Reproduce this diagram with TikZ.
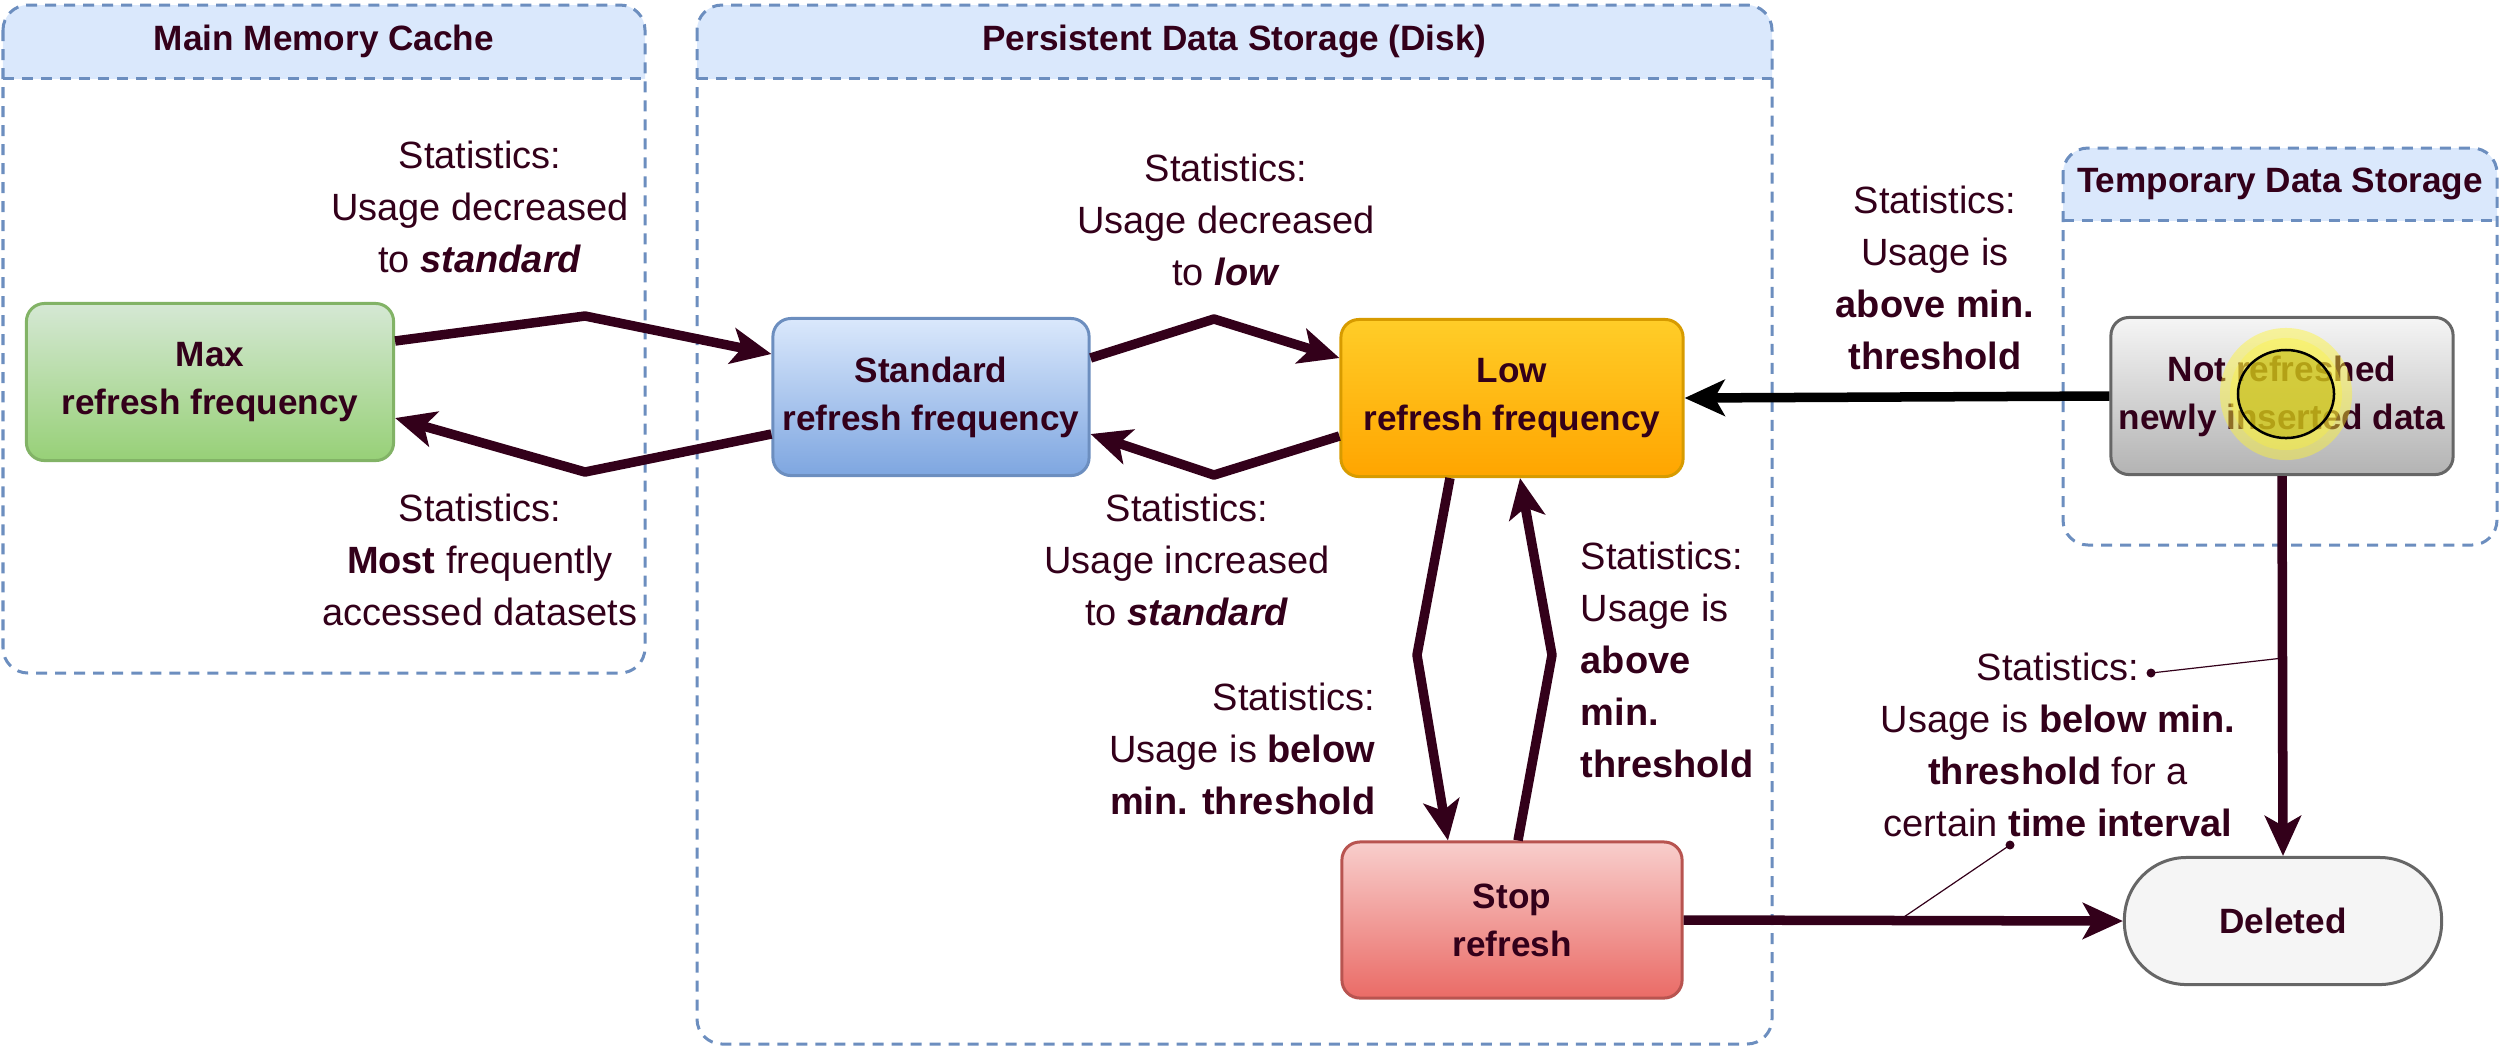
\documentclass[tikz,border=0pt]{standalone}
\usepackage{fontspec}
\setmainfont{Liberation Sans}
\usetikzlibrary{arrows.meta}
\definecolor{ink}{HTML}{33001A}
\definecolor{laneline}{HTML}{6C8EBF}
\definecolor{lanefill}{HTML}{DAE8FC}
\definecolor{greentop}{HTML}{D5E8D4}
\definecolor{greenbot}{HTML}{97D077}
\definecolor{greenline}{HTML}{82B366}
\definecolor{bluetop}{HTML}{DAE8FC}
\definecolor{bluebot}{HTML}{7EA6E0}
\definecolor{orangetop}{HTML}{FFCD28}
\definecolor{orangebot}{HTML}{FFA500}
\definecolor{orangeline}{HTML}{D79B00}
\definecolor{greytop}{HTML}{F5F5F5}
\definecolor{greybot}{HTML}{B3B3B3}
\definecolor{greyline}{HTML}{666666}
\definecolor{redtop}{HTML}{F8CECC}
\definecolor{redbot}{HTML}{EA6B66}
\definecolor{redline}{HTML}{B85450}

\begin{document}
\begin{tikzpicture}[x=0.01cm, y=-0.01cm, text=ink,
  lane/.style={draw=laneline, line width=0.03cm, dash pattern=on 0.11cm off 0.08cm, rounded corners=0.25cm},
  lanesep/.style={draw=laneline, line width=0.03cm, dash pattern=on 0.11cm off 0.08cm},
  title/.style={inner sep=0pt, font=\fontsize{10}{12}\selectfont\bfseries},
  state/.style={line width=0.03cm, rounded corners=0.18cm, align=center, inner sep=0pt,
    minimum height=1.57cm, font=\fontsize{10}{13.7}\selectfont\bfseries},
  stat/.style={align=center, inner sep=0pt, font=\fontsize{10.8}{14.8}\selectfont},
  flow/.style={draw=ink, line width=0.095cm, line join=round,
    -{Stealth[length=4mm,width=3.6mm,inset=1mm]}},
  note/.style={draw=ink, line width=0.012cm},
  ]

  \useasboundingbox (0,0) rectangle (2499,1047);

  % name, x1, y1, x2, y2, header bottom, title
  \newcommand\lane[7]{%
    \begin{scope}
      \clip (#2,#3) rectangle (#4,#6);
      \fill[lanefill, rounded corners=0.25cm] (#2,#3) rectangle (#4,#5);
    \end{scope}
    \draw[lane] (#2,#3) rectangle (#4,#5);
    \draw[lanesep] (#2,#6) -- (#4,#6);
    \node[title] (#1) at ({(#2+#4)/2},{(#3+#6)/2}) {#7};
  }

  \lane{cache}{3}{5}{645}{673}{78}{Main Memory Cache}
  \lane{disk}{697}{5}{1772}{1044}{78}{Persistent Data Storage (Disk)}
  \lane{temp}{2063}{148}{2497}{545}{220}{Temporary Data Storage}

  % states
  \node[state, draw=greenline, top color=greentop, bottom color=greenbot, minimum width=3.67cm]
    (max) at (210,382) {Max\\refresh frequency};
  \node[state, draw=laneline, top color=bluetop, bottom color=bluebot, minimum width=3.16cm]
    (std) at (931,397) {Standard\\refresh frequency};
  \node[state, draw=orangeline, top color=orangetop, bottom color=orangebot, minimum width=3.42cm]
    (low) at (1512,398) {Low\\refresh frequency};
  \node[state, draw=redline, top color=redtop, bottom color=redbot, minimum width=3.4cm, minimum height=1.56cm]
    (stop) at (1512,920) {Stop\\refresh};
  \node[state, draw=greyline, top color=greytop, bottom color=greybot, minimum width=3.42cm]
    (fresh) at (2282,396) {Not refreshed\\newly inserted data};
  \node[state, draw=greyline, fill=greytop, minimum width=3.17cm, minimum height=1.27cm, rounded corners=0.62cm]
    (del) at (2283,921) {Deleted};

  % bends
  \coordinate (b1) at (585,316);
  \coordinate (b2) at (585,472);
  \coordinate (b3) at (1214,319);
  \coordinate (b4) at (1214,475);
  \coordinate (b5) at (1417,655);
  \coordinate (b6) at (1552,655);

  \draw[flow] ([yshift=4.1mm]max.east) -- (b1) -- ([yshift=4.3mm]std.west); % max->std
  \draw[flow] ([yshift=-3.7mm]std.west) -- (b2) -- ([yshift=-3.6mm]max.east); % std->max
  \draw[flow] ([yshift=3.9mm]std.east) -- (b3) -- ([yshift=4mm]low.west); % std->low
  \draw[flow] ([yshift=-3.8mm]low.west) -- (b4) -- ([yshift=-3.7mm]std.east); % low->std
  \draw[flow] ([xshift=-6.2mm]low.south) -- (b5) -- ([xshift=-6.4mm]stop.north); % low->stop
  \draw[flow] ([xshift=0.6mm]stop.north) -- (b6) -- ([xshift=0.8mm]low.south); % stop->low
  \draw[flow, draw=black] (fresh.west) -- (low.east); % fresh->low
  \draw[flow] (fresh.south) -- (del.north); % fresh->del
  \draw[flow] (stop.east) -- (del.west); % stop->del

  % labels
  \node[stat] (s1) at (480,207) {Statistics:\\Usage decreased\\to \textbf{\textit{standard}}};
  \node[stat] (s2) at (480,560) {Statistics:\\\textbf{Most} frequently\\accessed datasets};
  \node[stat] (s3) at (1226,220) {Statistics:\\Usage decreased\\to \textbf{\textit{low}}};
  \node[stat] (s4) at (1187,560) {Statistics:\\Usage increased\\to \textbf{\textit{standard}}};
  \node[stat, align=right, anchor=east] (s5) at (1376,749) {Statistics:\\Usage is \textbf{below}\\\textbf{min. threshold}};
  \node[stat, align=left, anchor=west] (s6) at (1580,660) {Statistics:\\Usage is\\\textbf{above}\\\textbf{min.}\\\textbf{threshold}};
  \node[stat] (s7) at (1935,278) {Statistics:\\Usage is\\\textbf{above min.}\\\textbf{threshold}};
  \node[stat] (s8) at (2058,745) {Statistics:\\Usage is \textbf{below min.}\\\textbf{threshold} for a\\certain \textbf{time interval}};

  % callouts
  \coordinate (c1) at (2151,673);
  \coordinate (c2) at (2010,845);
  \draw[note] (c1) -- (2283,658);
  \draw[note] (c2) -- (1898,921);
  \fill[ink] (c1) circle (0.045cm) (c2) circle (0.045cm);

  % cursor highlight
  \fill[yellow!80!white, opacity=0.45] (2286,394) circle (0.66cm);
  \fill[yellow!80!white, opacity=0.35] (2286,394) circle (0.56cm);
  \fill[olive!70!yellow, opacity=0.45] (2286,394) ellipse (0.48cm and 0.44cm);
  \draw[black, line width=0.025cm] (2286,394) ellipse (0.48cm and 0.44cm);

\end{tikzpicture}
\end{document}
